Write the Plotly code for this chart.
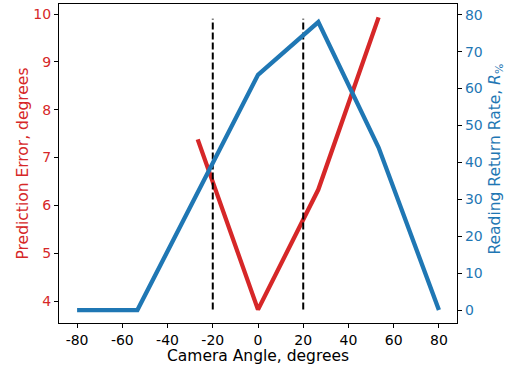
import plotly.graph_objects as go

# Data
err_x = [-26.67, 0, 26.67, 53.33]
err_y = [7.38, 3.82, 6.33, 9.93]
rate_x = [-80, -53.33, 0, 26.67, 53.33, 80]
rate_y = [0, 0, 63.7, 78, 44, 0]
vline_x = [-20, 20]
vline_y = [3.82, 9.9]
x_ticks = [-80, -60, -40, -20, 0, 20, 40, 60, 80]
y1_ticks = [4, 5, 6, 7, 8, 9, 10]
y2_ticks = [0, 10, 20, 30, 40, 50, 60, 70, 80]

RED = "#d62728"
BLUE = "#1f77b4"
FONT = "DejaVu Sans"
TICK = 14
TITLE = 15.5

fig = go.Figure()
fig.add_trace(go.Scatter(x=err_x, y=err_y, mode="lines",
                         line=dict(color=RED, width=4.3), yaxis="y"))
fig.add_trace(go.Scatter(x=rate_x, y=rate_y, mode="lines",
                         line=dict(color=BLUE, width=4.3), yaxis="y2"))
for vx in vline_x:
    fig.add_trace(go.Scatter(x=[vx, vx], y=vline_y, mode="lines",
                             line=dict(color="black", width=2, dash="7px,3px"),
                             yaxis="y"))

axis_common = dict(showgrid=False, zeroline=False, showline=True,
                   linecolor="black", linewidth=1.2, ticks="outside",
                   ticklen=4, tickcolor="black", automargin=False)

fig.update_layout(
    width=505, height=370,
    margin=dict(l=59, r=48, t=4, b=47),
    paper_bgcolor="white", plot_bgcolor="white",
    showlegend=False,
    font=dict(family=FONT, size=TICK, color="black"),
    xaxis=dict(range=[-88, 88], tickvals=x_ticks,
               ticktext=[str(v) for v in x_ticks], mirror=True,
               tickfont=dict(size=TICK), **axis_common),
    yaxis=dict(range=[3.54, 10.21], tickvals=y1_ticks,
               tickfont=dict(color=RED, size=TICK), **axis_common),
    yaxis2=dict(range=[-3.5, 82.9], tickvals=y2_ticks, overlaying="y",
                side="right", anchor="x",
                tickfont=dict(color=BLUE, size=TICK), **axis_common),
    annotations=[
        dict(text="Camera Angle, degrees", xref="paper", yref="paper",
             x=0.5, y=0, yshift=-33, xanchor="center", yanchor="middle",
             showarrow=False, font=dict(size=TITLE, color="black")),
        dict(text="Prediction Error, degrees", xref="paper", yref="paper",
             x=0, y=0.5, xshift=-37, xanchor="center", yanchor="middle",
             textangle=-90, showarrow=False,
             font=dict(size=TITLE, color=RED)),
        dict(text="Reading Return Rate, <i>R</i><sub>%</sub>",
             xref="paper", yref="paper",
             x=1, y=0.5, yshift=4, xshift=38, xanchor="center",
             yanchor="middle", textangle=-90, showarrow=False,
             font=dict(size=TITLE, color=BLUE)),
    ],
)

fig.write_html("out.html", config={"displayModeBar": False},
               post_script="document.body.style.margin='0';"
                           "document.body.style.padding='0';")
